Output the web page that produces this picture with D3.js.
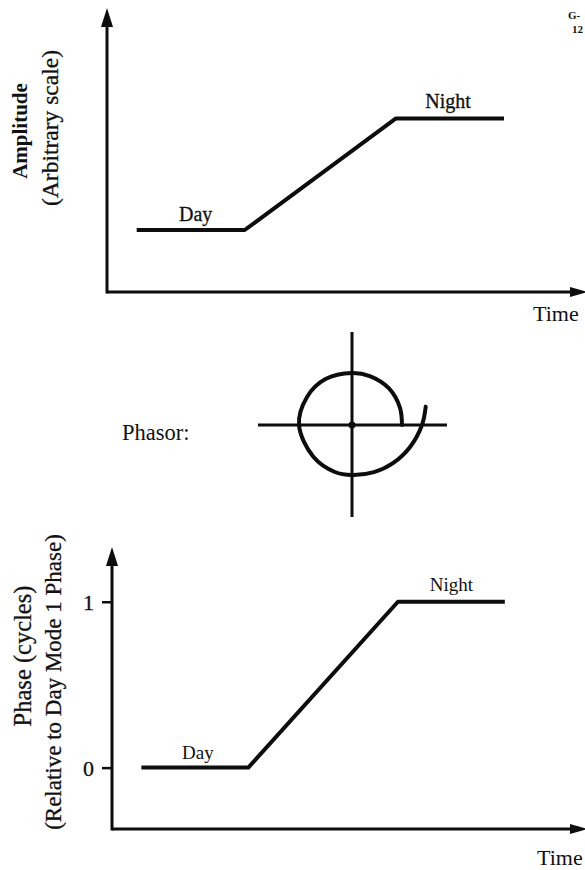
<!DOCTYPE html>
<html>
<head>
<meta charset="utf-8">
<script src="https://cdn.jsdelivr.net/npm/d3@7"></script>
<style>
  html, body { margin: 0; padding: 0; background: #fff; }
  svg { display: block; }
  text { font-family: "Liberation Serif", "Times New Roman", serif; fill: #111; }
  .heavy { stroke: #111; stroke-width: 0.3px; }
</style>
</head>
<body>
<script>
// Time points where the transition begins and ends (arbitrary time units)
const timePoints = [0.55, 2.55, 5.35, 7.35];
// Amplitude (arbitrary scale) at each time point
const amplitudeValues = [1, 1, 2.8, 2.8];
// Phase in cycles, relative to day mode 1 phase
const phaseValues = [0, 0, 1, 1];
const phaseTicks = [0, 1];
const segmentLabels = ["Day", "Night"];
// Phasor trace: angle (degrees, counter-clockwise from +x) and radius
const phasorAngles = [0, 20, 45, 70, 90, 120, 148, 180, 219, 250, 270, 295, 317, 339, 360, 374];
const phasorRadii  = [50, 51, 52, 52, 52, 53, 53, 53, 50, 50, 50, 52, 56, 62, 70, 76];

const W = 585, H = 870;
const svg = d3.select("body").append("svg").attr("width", W).attr("height", H);
svg.append("rect").attr("width", W).attr("height", H).attr("fill", "#fff");

const ink = "#0d0d0d";

function arrowUp(g, x, y) {
  g.append("path").attr("d", `M${x},${y} L${x - 6},${y + 19} L${x + 6},${y + 19} Z`).attr("fill", ink);
}
function arrowRight(g, x, y) {
  g.append("path").attr("d", `M${x + 8},${y} L${x - 10},${y - 5} L${x - 10},${y + 5} Z`).attr("fill", ink);
}

// ---------- Top panel: amplitude ----------
const xTop = d3.scaleLinear().domain([0, 8.85]).range([107, 585]);
const yAmp = d3.scaleLinear().domain([0, 4.58]).range([292, 8]);
const ampPanel = svg.append("g");

ampPanel.append("line").attr("x1", xTop(0)).attr("x2", xTop(0))
  .attr("y1", yAmp(0) + 1.5).attr("y2", yAmp(4.58) + 12)
  .attr("stroke", ink).attr("stroke-width", 3);
arrowUp(ampPanel, xTop(0), yAmp(4.58));
ampPanel.append("line").attr("x1", xTop(0)).attr("x2", xTop(8.85) - 8)
  .attr("y1", yAmp(0)).attr("y2", yAmp(0))
  .attr("stroke", ink).attr("stroke-width", 3);
arrowRight(ampPanel, xTop(8.85) - 5, yAmp(0));

const ampLine = d3.line().x((d, i) => xTop(timePoints[i])).y(d => yAmp(d));
ampPanel.append("path").datum(amplitudeValues).attr("d", ampLine)
  .attr("fill", "none").attr("stroke", ink).attr("stroke-width", 4)
  .attr("stroke-linejoin", "round");

ampPanel.append("text").attr("class", "heavy")
  .attr("x", (xTop(timePoints[0]) + xTop(timePoints[1])) / 2 + 5)
  .attr("y", yAmp(amplitudeValues[0]) - 9).attr("text-anchor", "middle")
  .attr("font-size", 20).text(segmentLabels[0]);
ampPanel.append("text").attr("class", "heavy")
  .attr("x", (xTop(timePoints[2]) + xTop(timePoints[3])) / 2 - 2)
  .attr("y", yAmp(amplitudeValues[2]) - 10).attr("text-anchor", "middle")
  .attr("font-size", 20).text(segmentLabels[1]);

ampPanel.append("text").attr("transform", "translate(27,131) rotate(-90)")
  .attr("text-anchor", "middle").attr("font-size", 21).attr("font-weight", "bold").text("Amplitude");
ampPanel.append("text").attr("class", "heavy").attr("transform", "translate(58,128) rotate(-90)")
  .attr("text-anchor", "middle").attr("font-size", 23.5).text("(Arbitrary scale)");
ampPanel.append("text").attr("x", 533).attr("y", 321).attr("font-size", 22).text("Time");

ampPanel.append("text").attr("x", 568).attr("y", 19).attr("font-size", 11).attr("font-weight", "bold").text("G-");
ampPanel.append("text").attr("x", 572).attr("y", 33).attr("font-size", 11).attr("font-weight", "bold").text("12");

// ---------- Middle: phasor ----------
const cx = 352, cy = 425;
const rScale = d3.scaleLinear().domain([0, 100]).range([0, 100]);
const ph = svg.append("g");
ph.append("text").attr("x", 122).attr("y", 440).attr("font-size", 22.5).text("Phasor:");
ph.append("line").attr("x1", cx - rScale(94)).attr("x2", cx + rScale(95))
  .attr("y1", cy).attr("y2", cy).attr("stroke", ink).attr("stroke-width", 3);
ph.append("line").attr("x1", cx).attr("x2", cx)
  .attr("y1", cy - rScale(93)).attr("y2", cy + rScale(92)).attr("stroke", ink).attr("stroke-width", 3);
ph.append("circle").attr("cx", cx).attr("cy", cy).attr("r", 3.5).attr("fill", ink);

const spiral = d3.line()
  .x((a, i) => cx + rScale(phasorRadii[i]) * Math.cos(a * Math.PI / 180))
  .y((a, i) => cy - rScale(phasorRadii[i]) * Math.sin(a * Math.PI / 180))
  .curve(d3.curveCatmullRom.alpha(0.5));
ph.append("path").datum(phasorAngles).attr("d", spiral)
  .attr("fill", "none").attr("stroke", ink).attr("stroke-width", 4)
  .attr("stroke-linecap", "round");

// ---------- Bottom panel: phase ----------
const xBot = d3.scaleLinear().domain([0, 8.85]).range([112, 585]);
const yPh = d3.scaleLinear().domain([-0.37, 1.33]).range([829, 547]);
const phasePanel = svg.append("g");

phasePanel.append("line").attr("x1", xBot(0)).attr("x2", xBot(0))
  .attr("y1", yPh(-0.37) + 1.5).attr("y2", yPh(1.33) + 12)
  .attr("stroke", ink).attr("stroke-width", 3);
arrowUp(phasePanel, xBot(0), yPh(1.33));
phasePanel.append("line").attr("x1", xBot(0)).attr("x2", xBot(8.85) - 8)
  .attr("y1", yPh(-0.37)).attr("y2", yPh(-0.37))
  .attr("stroke", ink).attr("stroke-width", 3);
arrowRight(phasePanel, xBot(8.85) - 5, yPh(-0.37));

const yAxis = d3.axisLeft(yPh).tickValues(phaseTicks).tickFormat(d3.format("d"))
  .tickSize(10).tickPadding(8);
const ax = phasePanel.append("g").attr("transform", `translate(${xBot(0)},0)`).call(yAxis);
ax.select(".domain").remove();
ax.selectAll(".tick line").attr("stroke", ink).attr("stroke-width", 2.5);
ax.selectAll(".tick text").attr("font-size", 22).attr("font-family", "Liberation Serif")
  .attr("fill", ink).attr("stroke", ink).attr("stroke-width", 0.3).attr("dy", "0.36em");

const phLine = d3.line().x((d, i) => xBot(timePoints[i])).y(d => yPh(d));
phasePanel.append("path").datum(phaseValues).attr("d", phLine)
  .attr("fill", "none").attr("stroke", ink).attr("stroke-width", 4)
  .attr("stroke-linejoin", "round");

phasePanel.append("text")
  .attr("x", (xBot(timePoints[0]) + xBot(timePoints[1])) / 2 + 3)
  .attr("y", yPh(phaseValues[0]) - 9).attr("text-anchor", "middle")
  .attr("font-size", 19).text(segmentLabels[0]);
phasePanel.append("text")
  .attr("x", (xBot(timePoints[2]) + xBot(timePoints[3])) / 2)
  .attr("y", yPh(phaseValues[2]) - 11).attr("text-anchor", "middle")
  .attr("font-size", 19).text(segmentLabels[1]);

phasePanel.append("text").attr("class", "heavy").attr("transform", "translate(31,656) rotate(-90)")
  .attr("text-anchor", "middle").attr("font-size", 24.5).text("Phase (cycles)");
phasePanel.append("text").attr("class", "heavy").attr("transform", "translate(61,682) rotate(-90)")
  .attr("text-anchor", "middle").attr("font-size", 23).text("(Relative to Day Mode 1 Phase)");
phasePanel.append("text").attr("x", 537).attr("y", 865).attr("font-size", 22).text("Time");
</script>
</body>
</html>
